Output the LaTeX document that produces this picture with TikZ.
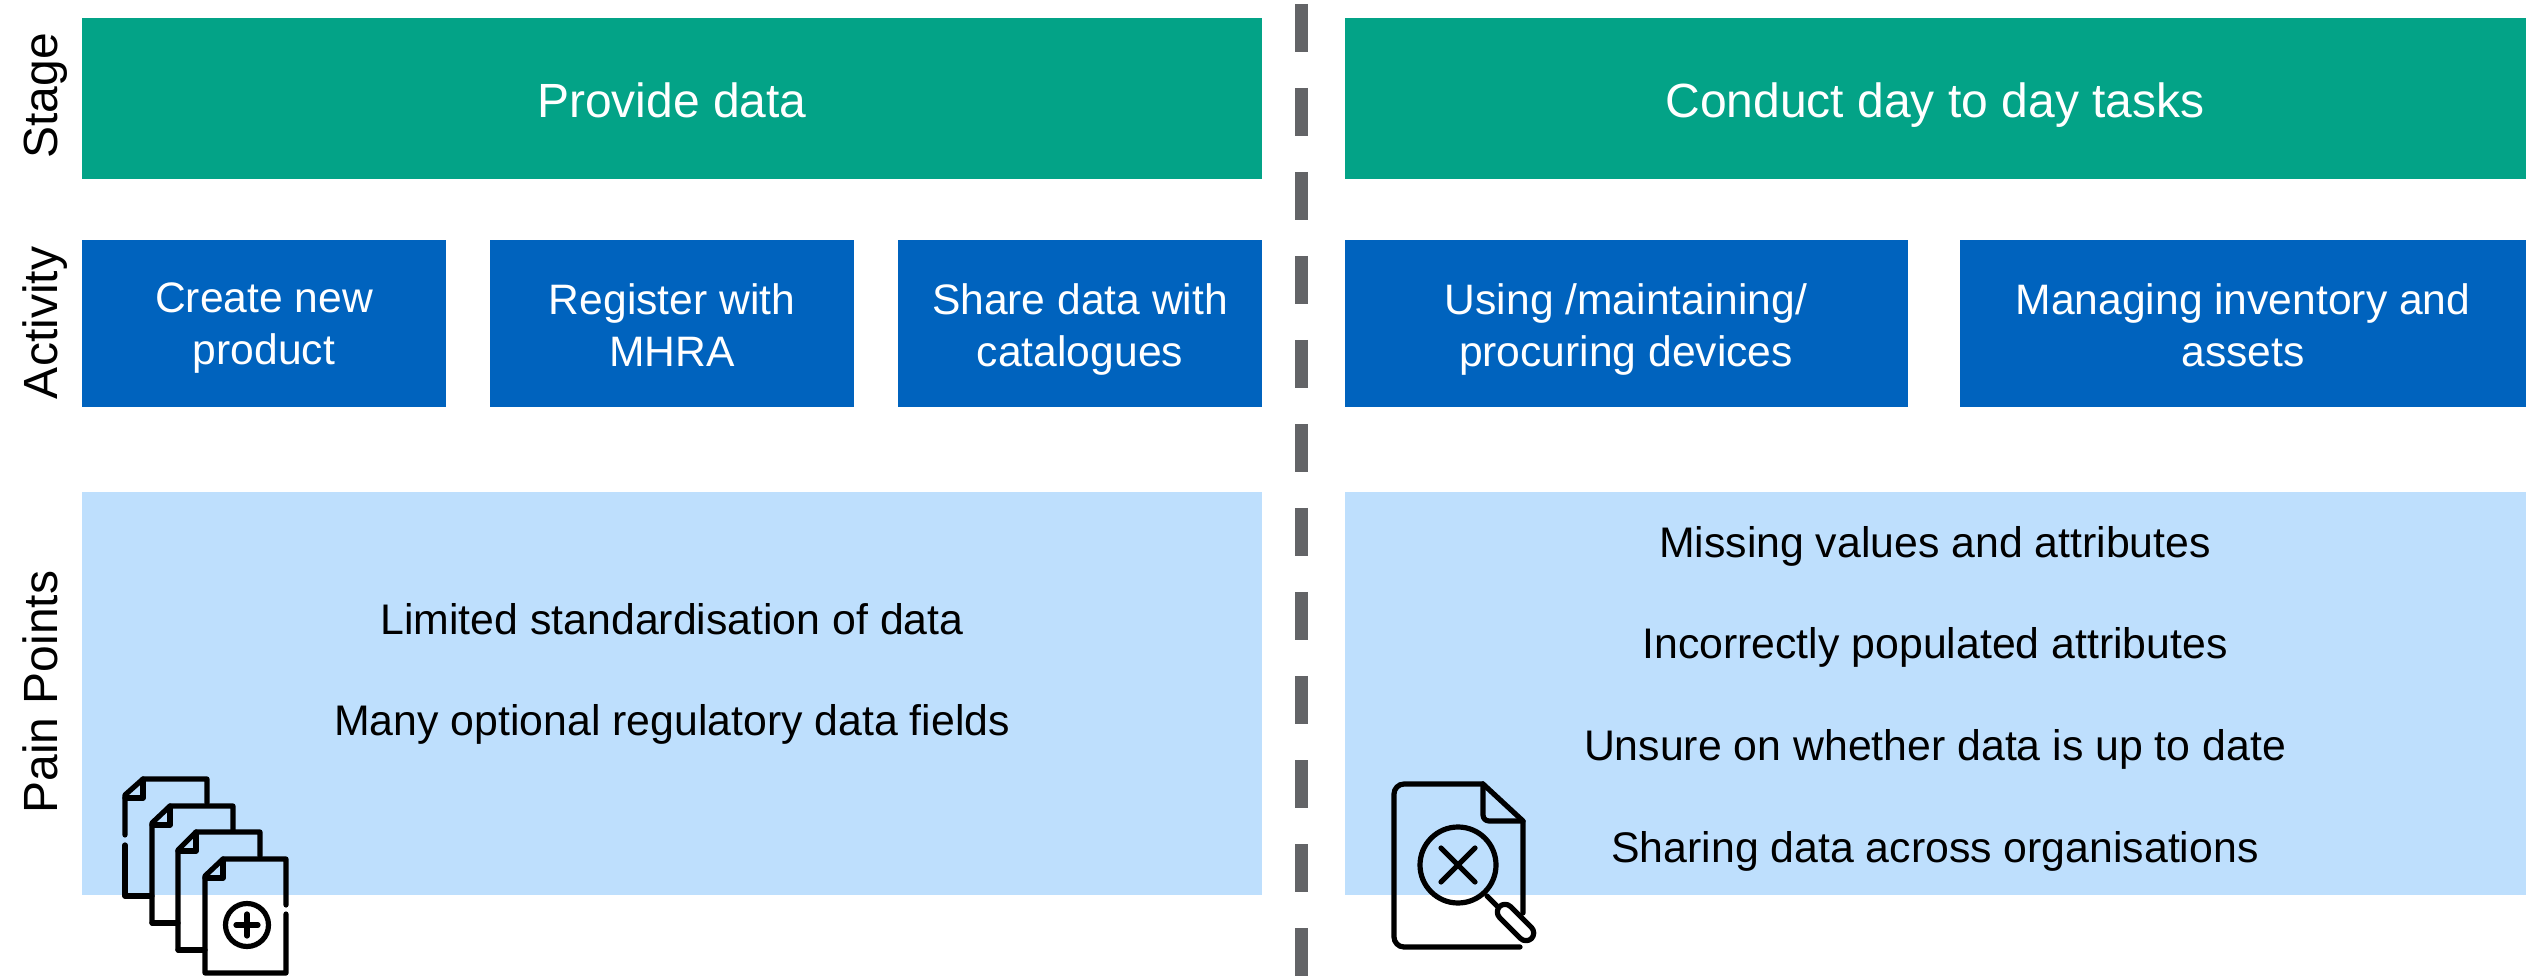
\documentclass[tikz,border=0pt]{standalone}
\usepackage{fontspec}
\setmainfont{Liberation Sans}
\definecolor{stagegreen}{HTML}{03A387}
\definecolor{actblue}{HTML}{0063BE}
\definecolor{painblue}{HTML}{BEDFFD}
\definecolor{dashgrey}{HTML}{636467}
\tikzset{
  x=0.5pt,y=-0.5pt,
  box/.style={inner sep=0pt,outer sep=0pt,align=center,anchor=base,text=white},
  lab/.style={font=\fontsize{24}{28}\selectfont},
  acttext/.style={font=\fontsize{21.3}{26}\selectfont},
  paintext/.style={font=\fontsize{21.4}{24}\selectfont,text=black,inner sep=0pt,anchor=base},
  sidelab/.style={font=\fontsize{24}{28}\selectfont,rotate=90,anchor=base,inner sep=0pt},
  ico/.style={draw=black,line width=2.6pt,line join=round,line cap=round,fill=none},
}
\begin{document}
\begin{tikzpicture}
\useasboundingbox (0,0) rectangle (2526,977);
% stage
\fill[stagegreen] (82,18) rectangle (1262,179);
\fill[stagegreen] (1345,18) rectangle (2526,179);
\node[box,lab] (s1) at (672,118) {Provide data};
\node[box,lab] (s2) at (1935,118) {Conduct day to day tasks};
% activity
\fill[actblue] (82,240) rectangle (446,407);
\fill[actblue] (490,240) rectangle (854,407);
\fill[actblue] (898,240) rectangle (1262,407);
\fill[actblue] (1345,240) rectangle (1908,407);
\fill[actblue] (1960,240) rectangle (2526,407);
\node[box,acttext] (a1) at (264,365) {Create new\\product};
\node[box,acttext] (a2) at (672,367) {Register with\\MHRA};
\node[box,acttext] (a3) at (1080,367) {Share data with\\catalogues};
\node[box,acttext] (a4) at (1626,367) {Using /maintaining/\\procuring devices};
\node[box,acttext] (a5) at (2243,367) {Managing inventory and\\assets};
% pain
\fill[painblue] (82,492) rectangle (1262,895);
\fill[painblue] (1345,492) rectangle (2526,895);
\node[paintext] (p1) at (672,635) {Limited standardisation of data};
\node[paintext] (p2) at (672,735) {Many optional regulatory data fields};
\node[paintext] (p3) at (1935,558) {Missing values and attributes};
\node[paintext] (p4) at (1935,659) {Incorrectly populated attributes};
\node[paintext] (p5) at (1935,761) {Unsure on whether data is up to date};
\node[paintext] (p6) at (1935,862) {Sharing data across organisations};
% side labels
\node[sidelab] (l1) at (57,96) {Stage};
\node[sidelab] (l2) at (57,323) {Activity};
\node[sidelab] (l3) at (57,692) {Pain Points};
% divider
\coordinate (d1) at (1301.5,4);
\coordinate (d2) at (1301.5,977);
\draw[dashgrey,line width=6.5pt,dash pattern=on 24pt off 18pt] (d1) -- (d2);
% stacked documents icon
\draw[ico] (125,835) -- (125,795) -- (143,779) -- (207,779) -- (207,803);
\draw[ico] (125,845) -- (125,896) -- (152,896);
\draw[ico] (125,798) -- (143,798) -- (143,779);
\draw[ico] (152,923) -- (152,823) -- (170,806) -- (233,806) -- (233,830);
\draw[ico] (152,923) -- (178,923);
\draw[ico] (152,825) -- (170,825) -- (170,806);
\draw[ico] (178,950) -- (178,850) -- (196,832) -- (260,832) -- (260,856);
\draw[ico] (178,950) -- (205,950);
\draw[ico] (178,851) -- (196,851) -- (196,832);
\draw[ico] (286,905) -- (286,859) -- (223,859) -- (205,876) -- (205,973) -- (286,973) -- (286,914);
\draw[ico] (205,878) -- (223,878) -- (223,859);
\draw[ico] (247,925) circle (21.5);
\draw[ico] (236,925) -- (258,925);
\draw[ico] (247,914) -- (247,936);
% search document icon
\draw[ico,rounded corners=5pt] (1520,947) -- (1394,947) -- (1394,784) -- (1483,784);
\draw[ico] (1483,784) -- (1523,821) -- (1523,913);
\draw[ico,rounded corners=3pt] (1483,784) -- (1483,821) -- (1523,821);
\draw[ico] (1458,865) circle (38);
\draw[ico] (1441,848) -- (1475,882);
\draw[ico] (1475,848) -- (1441,882);
\draw[ico] (1487,896) -- (1497,906);
\draw[ico,rounded corners=4pt] (1505,901) -- (1537,933) -- (1526,944) -- (1494,912) -- cycle;
\end{tikzpicture}
\end{document}
